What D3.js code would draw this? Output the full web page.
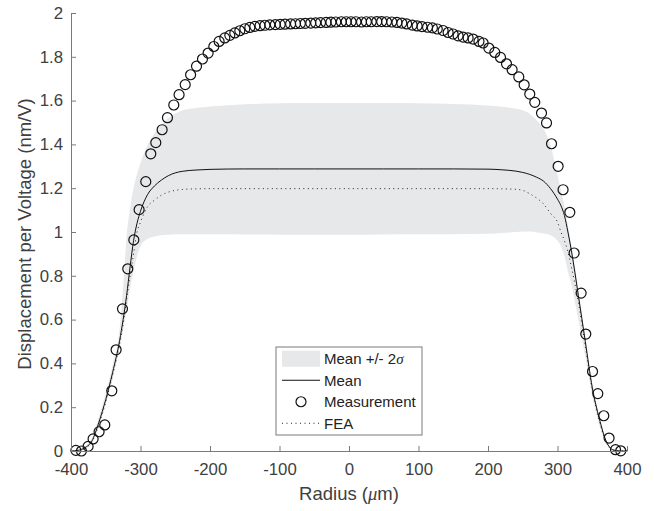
<!DOCTYPE html>
<html>
<head>
<meta charset="utf-8">
<script src="https://cdn.jsdelivr.net/npm/d3@7"></script>
<style>
  body { margin: 0; background: #fff; }
  text { font-family: "Liberation Sans", Arial, Helvetica, sans-serif; }
</style>
</head>
<body>
<script>
// model grid (radius in um)
const modelR = [-400, -390, -380, -370, -360, -350, -340, -330, -325, -320, -315, -310, -305, -300, -290, -280, -270, -260, -250, -240, -220, -200, -150, -100, -50, 0, 50, 100, 150, 200, 220, 240, 250, 260, 270, 280, 290, 300, 305, 310, 315, 320, 330, 340, 350, 360, 370, 380, 390, 400];

const meanV = [0, 0.003, 0.015, 0.045, 0.13, 0.235, 0.36, 0.505, 0.6, 0.71, 0.84, 0.96, 1.04, 1.095, 1.17, 1.21, 1.237, 1.257, 1.27, 1.277, 1.283, 1.286, 1.288, 1.288, 1.288, 1.288, 1.288, 1.288, 1.288, 1.287, 1.284, 1.278, 1.272, 1.263, 1.25, 1.232, 1.198, 1.15, 1.12, 1.075, 1.0, 0.915, 0.71, 0.5, 0.29, 0.15, 0.045, 0.005, 0, 0];

const feaV = [0, 0.003, 0.013, 0.042, 0.12, 0.225, 0.35, 0.49, 0.58, 0.69, 0.8, 0.9, 1.0, 1.045, 1.115, 1.145, 1.168, 1.182, 1.19, 1.194, 1.197, 1.198, 1.198, 1.198, 1.198, 1.198, 1.198, 1.198, 1.198, 1.198, 1.197, 1.195, 1.19, 1.175, 1.155, 1.128, 1.085, 1.045, 1.0, 0.96, 0.91, 0.84, 0.68, 0.48, 0.28, 0.14, 0.04, 0.004, 0, 0];

const bandUpper = [0, 0.004, 0.02, 0.058, 0.155, 0.265, 0.395, 0.56, 0.75, 0.98, 1.11, 1.2, 1.265, 1.315, 1.395, 1.45, 1.49, 1.52, 1.54, 1.555, 1.566, 1.573, 1.583, 1.588, 1.589, 1.589, 1.589, 1.588, 1.585, 1.578, 1.572, 1.563, 1.556, 1.54, 1.51, 1.47, 1.395, 1.26, 1.19, 1.12, 1.03, 0.94, 0.74, 0.52, 0.31, 0.165, 0.052, 0.008, 0.001, 0];

const bandLower = [0, 0.002, 0.01, 0.035, 0.11, 0.21, 0.33, 0.47, 0.55, 0.64, 0.74, 0.82, 0.89, 0.935, 0.968, 0.98, 0.985, 0.988, 0.99, 0.99, 0.99, 0.99, 0.989, 0.988, 0.988, 0.988, 0.989, 0.99, 0.99, 0.992, 0.995, 1.0, 1.002, 1.002, 0.998, 0.993, 0.985, 0.96, 0.935, 0.89, 0.82, 0.76, 0.6, 0.43, 0.25, 0.12, 0.035, 0.003, 0, 0];

// measured points
const measR = [-393, -385, -375.4, -368.2, -359.6, -351.4, -341.3, -335.1, -325.9, -318.3, -309.6, -302, -292.4, -285.2, -278, -268.9, -261.2, -252.1, -244.5, -235.7, -227.9, -219.4, -210.8, -202.7, -194.5, -186.9, -178.7, -171.5, -164.3, -157.1, -149.9, -142.7, -135.5,
  -128, -121, -114, -106, -99, -92, -84, -77, -70, -63, -55, -48, -41, -33, -26, -19, -11, -4, 3, 10, 18, 25, 32, 40, 47, 54, 61.5, 69, 76, 83, 91, 98, 105, 113, 120, 127,
  135.4, 142.6, 149.8, 157, 164.2, 171.4, 178.6, 187, 193, 201.2, 209.8, 218, 226.6, 234.7, 244.3, 252, 260.1, 267.3, 277, 284.2, 291.4, 300.9, 308, 317.7, 323.9, 334, 340.7, 350.4, 358, 366.6, 374.2, 383.5, 391];

const measV = [0.003, 0.0, 0.021, 0.055, 0.088, 0.119, 0.275, 0.462, 0.649, 0.832, 0.964, 1.102, 1.23, 1.357, 1.408, 1.467, 1.522, 1.58, 1.627, 1.673, 1.718, 1.757, 1.79, 1.817, 1.847, 1.87, 1.886, 1.898, 1.909, 1.919, 1.928, 1.934, 1.939,
  1.942, 1.944, 1.946, 1.947, 1.948, 1.949, 1.95, 1.951, 1.952, 1.953, 1.954, 1.955, 1.956, 1.957, 1.958, 1.959, 1.96, 1.96, 1.96, 1.96, 1.959, 1.96, 1.96, 1.961, 1.961, 1.96, 1.959, 1.957, 1.954, 1.95, 1.945, 1.941, 1.938, 1.935, 1.932, 1.927,
  1.92, 1.911, 1.904, 1.896, 1.89, 1.886, 1.881, 1.87, 1.863, 1.84, 1.82, 1.797, 1.768, 1.741, 1.708, 1.672, 1.63, 1.592, 1.543, 1.498, 1.403, 1.3, 1.193, 1.09, 0.904, 0.721, 0.534, 0.363, 0.262, 0.161, 0.059, 0.006, 0.001];

const xTicks = [-400, -300, -200, -100, 0, 100, 200, 300, 400];
const yTicks = [0, 0.2, 0.4, 0.6, 0.8, 1, 1.2, 1.4, 1.6, 1.8, 2];

const W = 654, H = 511;
const padL = 71, padR = 627, padT = 13, padB = 451;
const axisGrey = "#7a7a7a", textGrey = "#404040";

const svg = d3.select("body").append("svg").attr("width", W).attr("height", H);

const x = d3.scaleLinear().domain([-400, 400]).range([padL, padR]);
const y = d3.scaleLinear().domain([0, 2]).range([padB, padT]);

const model = modelR.map((r, i) => ({ r, mean: meanV[i], fea: feaV[i], up: bandUpper[i], lo: bandLower[i] }));
const meas = measR.map((r, i) => ({ r, v: measV[i] }));

// band
svg.append("path")
  .datum(model)
  .attr("fill", "#e7e8e9")
  .attr("d", d3.area().curve(d3.curveMonotoneX)
    .x(d => x(d.r)).y0(d => y(d.lo)).y1(d => y(d.up)));

// mean
svg.append("path")
  .datum(model)
  .attr("fill", "none")
  .attr("stroke", "#111")
  .attr("stroke-width", 1)
  .attr("d", d3.line().curve(d3.curveMonotoneX).x(d => x(d.r)).y(d => y(d.mean)));

// FEA
svg.append("path")
  .datum(model)
  .attr("fill", "none")
  .attr("stroke", "#222")
  .attr("stroke-width", 1)
  .attr("stroke-dasharray", "1,3.5")
  .attr("d", d3.line().curve(d3.curveMonotoneX).x(d => x(d.r)).y(d => y(d.fea)));

// measurements
svg.selectAll("circle.meas")
  .data(meas)
  .enter()
  .append("circle")
  .attr("class", "meas")
  .attr("cx", d => x(d.r))
  .attr("cy", d => y(d.v))
  .attr("r", 5)
  .attr("fill", "none")
  .attr("stroke", "#111")
  .attr("stroke-width", 1.2);

// axes
const xAxis = svg.append("g")
  .attr("transform", `translate(0,${padB})`)
  .call(d3.axisBottom(x).tickValues(xTicks).tickSizeInner(-5).tickSizeOuter(0).tickPadding(12).tickFormat(d => String(d)));
const yAxis = svg.append("g")
  .attr("transform", `translate(${padL},0)`)
  .call(d3.axisLeft(y).tickValues(yTicks).tickSizeInner(-5).tickSizeOuter(0).tickPadding(8).tickFormat(d => String(d)));

[xAxis, yAxis].forEach(g => {
  g.select(".domain").attr("stroke", axisGrey);
  g.selectAll(".tick line").attr("stroke", axisGrey);
  g.selectAll(".tick text")
    .attr("fill", textGrey)
    .style("font-size", "16.8px")
    .style("font-family", "'Liberation Sans', Arial, sans-serif");
});

// axis labels
const xl = svg.append("text")
  .attr("x", (padL + padR) / 2)
  .attr("y", 500)
  .attr("text-anchor", "middle")
  .attr("fill", textGrey)
  .style("font-size", "18.5px");
xl.append("tspan").text("Radius (");
xl.append("tspan").attr("font-style", "italic").attr("font-family", "'Liberation Serif', serif").text("μ");
xl.append("tspan").text("m)");

svg.append("text")
  .attr("transform", "translate(31,234) rotate(-90)")
  .attr("text-anchor", "middle")
  .attr("fill", textGrey)
  .style("font-size", "18.5px")
  .text("Displacement per Voltage (nm/V)");

// legend
const lg = svg.append("g");
lg.append("rect")
  .attr("x", 276).attr("y", 347).attr("width", 146).attr("height", 88)
  .attr("fill", "#fff").attr("stroke", axisGrey).attr("stroke-width", 1);

const legendItems = ["band", "mean", "meas", "fea"];
const legendY = d3.scaleBand().domain(legendItems).range([348, 434]);
const ly = k => legendY(k) + legendY.bandwidth() / 2;

lg.append("rect").attr("x", 282).attr("y", ly("band") - 8).attr("width", 38).attr("height", 16).attr("fill", "#e7e8e9");
lg.append("line").attr("x1", 282).attr("x2", 320).attr("y1", ly("mean")).attr("y2", ly("mean")).attr("stroke", "#111");
lg.append("circle").attr("cx", 301).attr("cy", ly("meas")).attr("r", 5).attr("fill", "none").attr("stroke", "#111").attr("stroke-width", 1.2);
lg.append("line").attr("x1", 282).attr("x2", 320).attr("y1", ly("fea")).attr("y2", ly("fea")).attr("stroke", "#222").attr("stroke-dasharray", "1,3.5");

const labelFor = {
  band: null,
  mean: "Mean",
  meas: "Measurement",
  fea: "FEA"
};
legendItems.forEach(k => {
  const t = lg.append("text")
    .attr("x", 324)
    .attr("y", ly(k))
    .attr("dy", "0.35em")
    .attr("fill", "#222")
    .style("font-size", "15px");
  if (k === "band") {
    t.append("tspan").text("Mean +/- 2");
    t.append("tspan").attr("font-style", "italic").attr("font-family", "'Liberation Serif', serif").text("σ");
  } else {
    t.text(labelFor[k]);
  }
});
</script>
</body>
</html>
